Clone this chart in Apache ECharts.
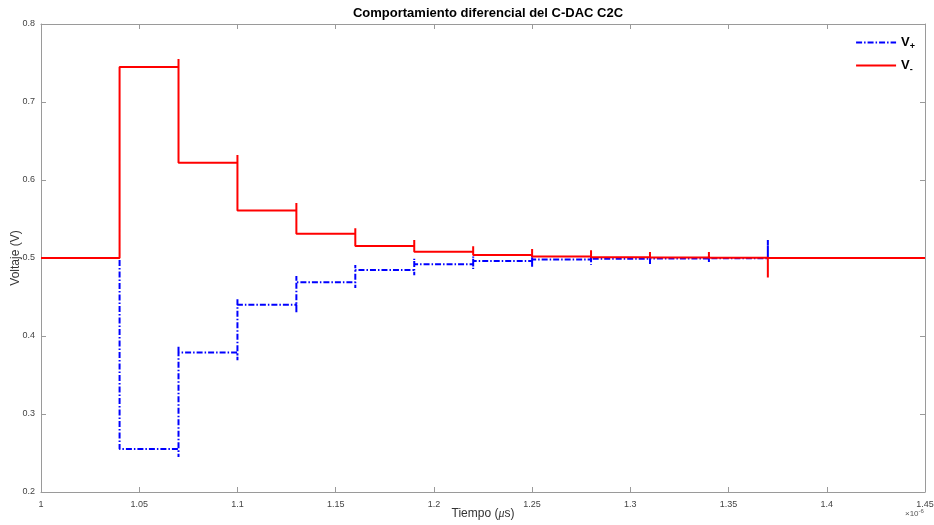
<!DOCTYPE html>
<html>
<head>
<meta charset="utf-8">
<script src="https://cdn.jsdelivr.net/npm/echarts@6/dist/echarts.min.js"></script>
<style>
  html, body { margin: 0; padding: 0; background: #fff; }
  #chart { width: 934px; height: 525px; }
</style>
</head>
<body>
<div id="chart"></div>
<script>
// switching instants (x 10^-6 s)
var tSwitch = [1.04, 1.07, 1.10, 1.13, 1.16, 1.19, 1.22, 1.25, 1.28, 1.31, 1.34, 1.37];
var tEnd = 1.45;

// level held after each switch (index 0 = before first switch)
var vPlusLevels  = [0.5, 0.255, 0.379, 0.440, 0.469, 0.4845, 0.492, 0.496, 0.498, 0.499, 0.4995, 0.4997, 0.5];
var vMinusLevels = [0.5, 0.745, 0.622, 0.561, 0.531, 0.5155, 0.508, 0.504, 0.502, 0.501, 0.5005, 0.5003, 0.5];

// glitch excursions at each switch (null = none)
var vPlusSpikeA  = [null, 0.245, 0.369, 0.4295, 0.4615, 0.478, 0.486, 0.4885, 0.491, 0.4923, 0.4936, 0.523];
var vPlusSpikeB  = [null, 0.387, 0.4474, 0.477, 0.491, 0.499, 0.502, 0.503, 0.503, 0.503, 0.503, null];
var vMinusSpikeA = [null, 0.755, 0.632, 0.5705, 0.538, 0.523, 0.515, 0.5115, 0.510, 0.5077, 0.5077, 0.475];
var vMinusSpikeB = [null, null, null, null, null, null, null, null, null, null, null, null];

var xTicks = [1, 1.05, 1.1, 1.15, 1.2, 1.25, 1.3, 1.35, 1.4, 1.45];
var yTicks = [0.2, 0.3, 0.4, 0.5, 0.6, 0.7, 0.8];

function buildPath(levels, spA, spB) {
  var pts = [[xTicks[0], levels[0]]];
  for (var i = 0; i < tSwitch.length; i++) {
    var t = tSwitch[i];
    pts.push([t, levels[i]]);
    if (spA[i] !== null) pts.push([t, spA[i]]);
    if (spB[i] !== null) pts.push([t, spB[i]]);
    pts.push([t, levels[i + 1]]);
  }
  pts.push([tEnd, levels[levels.length - 1]]);
  return pts;
}

var chart = echarts.init(document.getElementById('chart'));
var lab = { color: '#444', fontSize: 9, fontFamily: 'Liberation Sans' };
var axLine = { show: true, lineStyle: { color: '#9a9a9a', width: 1 } };
var axTick = { show: true, inside: true, length: 5, lineStyle: { color: '#9a9a9a' } };

chart.setOption({
  animation: false,
  backgroundColor: '#fff',
  title: {
    text: 'Comportamiento diferencial del C-DAC C2C',
    left: 483, top: 2, textAlign: 'center',
    textStyle: { fontFamily: 'Liberation Sans', fontWeight: 'bold', fontSize: 13, color: '#000' }
  },
  legend: {
    right: 14, top: 31, orient: 'vertical', itemWidth: 40, itemHeight: 10, itemGap: 8,
    data: ['V+', 'V-'],
    itemStyle: { opacity: 0 },
    formatter: function (n) { return '{v|V}{s|' + n.slice(1) + '}'; },
    textStyle: {
      rich: {
        v: { fontSize: 13, fontWeight: 'bold', color: '#000', fontFamily: 'Liberation Sans' },
        s: { fontSize: 9, fontWeight: 'bold', color: '#000', verticalAlign: 'bottom', padding: [8, 0, 0, 0] }
      }
    }
  },
  grid: { left: 41, right: 9, top: 24, bottom: 33, containLabel: false, outerBoundsMode: 'none' },
  xAxis: [{
    type: 'value', min: 1, max: 1.45, interval: 0.05,
    axisLine: axLine, axisTick: axTick, splitLine: { show: false },
    axisLabel: Object.assign({ margin: 8, formatter: function (v) { return String(parseFloat(v.toFixed(2))); } }, lab),
    name: '{a|Tiempo (}{i|\u03bc}{a|s)}', nameLocation: 'middle', nameGap: 16, nameMoveOverlap: false,
    nameTextStyle: { rich: {
      a: { fontSize: 12, color: '#333', fontFamily: 'Liberation Sans' },
      i: { fontSize: 12, color: '#333', fontStyle: 'italic', fontFamily: 'Liberation Serif' }
    } }
  }, {
    type: 'value', position: 'top', min: 1, max: 1.45, interval: 0.05,
    axisLine: axLine, axisTick: axTick, axisLabel: { show: false }, splitLine: { show: false }
  }],
  yAxis: [{
    type: 'value', min: 0.2, max: 0.8, interval: 0.1,
    axisLine: axLine, axisTick: axTick, splitLine: { show: false },
    axisLabel: Object.assign({ margin: 6, formatter: function (v) { return String(parseFloat(v.toFixed(1))); } }, lab),
    name: 'Voltaje (V)', nameLocation: 'middle', nameGap: 19, nameMoveOverlap: false,
    nameTextStyle: { fontSize: 12, color: '#333', fontFamily: 'Liberation Sans' }
  }, {
    type: 'value', position: 'right', min: 0.2, max: 0.8, interval: 0.1,
    axisLine: axLine, axisTick: axTick, axisLabel: { show: false }, splitLine: { show: false }
  }],
  graphic: [{
    type: 'text', left: 905, top: 508,
    style: { text: '{a|\u00d710}{b|-6}', rich: {
      a: { fontSize: 8, fill: '#555', fontFamily: 'Liberation Sans' },
      b: { fontSize: 6, fill: '#555', verticalAlign: 'top', padding: [0, 0, 6, 0] }
    } }
  }],
  series: [{
    name: 'V+', type: 'line', symbol: 'none',
    data: buildPath(vPlusLevels, vPlusSpikeA, vPlusSpikeB),
    lineStyle: { color: '#0000ff', width: 2, type: [6, 2, 1.5, 2] },
    itemStyle: { color: '#0000ff' }
  }, {
    name: 'V-', type: 'line', symbol: 'none',
    data: buildPath(vMinusLevels, vMinusSpikeA, vMinusSpikeB),
    lineStyle: { color: '#ff0000', width: 2 },
    itemStyle: { color: '#ff0000' }
  }]
});
</script>
</body>
</html>
